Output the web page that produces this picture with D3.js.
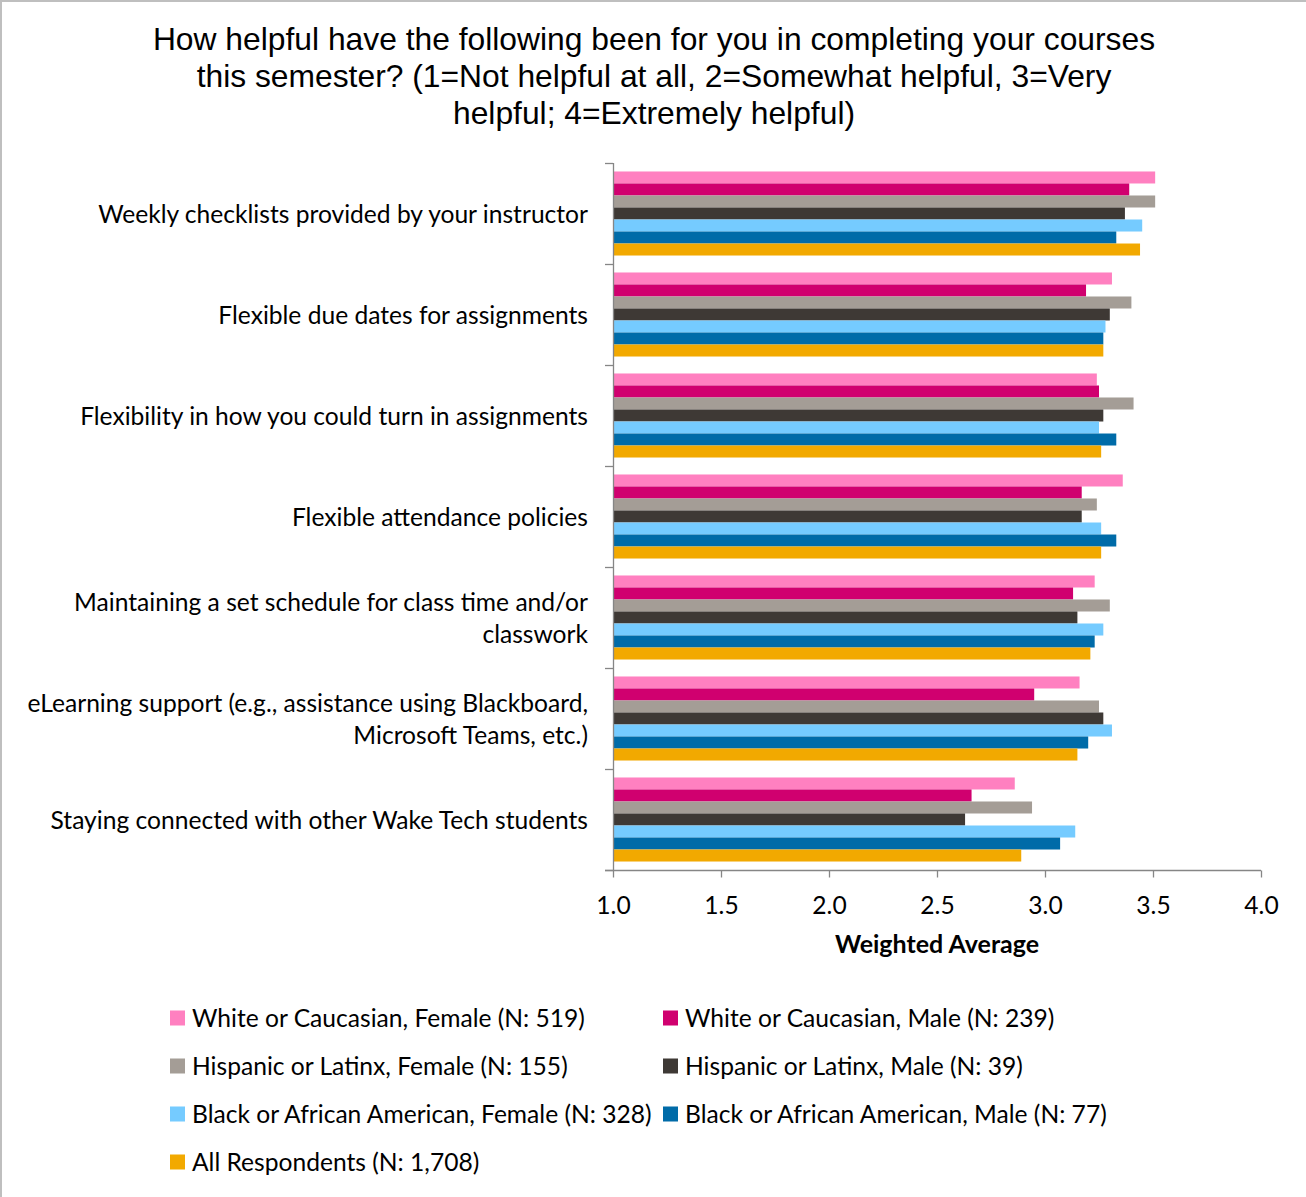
<!DOCTYPE html>
<html>
<head>
<meta charset="utf-8">
<script src="https://cdn.jsdelivr.net/npm/d3@7"></script>
<style>
  html, body { margin: 0; padding: 0; background: #fff; }
  svg { display: block; }
</style>
</head>
<body>
<svg id="chart" width="1306" height="1197"></svg>
<script>
// Survey items (top to bottom); "\n" splits a label over two lines
const categories = [
  "Weekly checklists provided by your instructor",
  "Flexible due dates for assignments",
  "Flexibility in how you could turn in assignments",
  "Flexible attendance policies",
  "Maintaining a set schedule for class time and/or\nclasswork",
  "eLearning support (e.g., assistance using Blackboard,\nMicrosoft Teams, etc.)",
  "Staying connected with other Wake Tech students"
];

const seriesNames = [
  "White or Caucasian, Female (N: 519)",
  "White or Caucasian, Male (N: 239)",
  "Hispanic or Latinx, Female (N: 155)",
  "Hispanic or Latinx, Male (N: 39)",
  "Black or African American, Female (N: 328)",
  "Black or African American, Male (N: 77)",
  "All Respondents (N: 1,708)"
];

const seriesColors = ["#FF80C0", "#D0006F", "#A49D96", "#3E3935", "#75CBFF", "#006BA8", "#F2A900"];

// Weighted averages per series, one value per survey item
const whiteFemale    = [3.51, 3.31, 3.24, 3.36, 3.23, 3.16, 2.86];
const whiteMale      = [3.39, 3.19, 3.25, 3.17, 3.13, 2.95, 2.66];
const hispanicFemale = [3.51, 3.40, 3.41, 3.24, 3.30, 3.25, 2.94];
const hispanicMale   = [3.37, 3.30, 3.27, 3.17, 3.15, 3.27, 2.63];
const blackFemale    = [3.45, 3.28, 3.25, 3.26, 3.27, 3.31, 3.14];
const blackMale      = [3.33, 3.27, 3.33, 3.33, 3.23, 3.20, 3.07];
const allRespondents = [3.44, 3.27, 3.26, 3.26, 3.21, 3.15, 2.89];

const seriesValues = [whiteFemale, whiteMale, hispanicFemale, hispanicMale, blackFemale, blackMale, allRespondents];

const xTicks = [1.0, 1.5, 2.0, 2.5, 3.0, 3.5, 4.0];

const titleLines = [
  "How helpful have the following been for you in completing your courses",
  "this semester? (1=Not helpful at all, 2=Somewhat helpful, 3=Very",
  "helpful; 4=Extremely helpful)"
];

const legendOrder = [[0, 1], [2, 3], [4, 5], [6]];

// ---- layout ----
const svg = d3.select("#chart");
const labelFont = "Lato, 'Open Sans', sans-serif";
const labelSize = 24.6;
const axisColor = "#868686";
const plot = { left: 613, right: 1261, top: 163, bottom: 870 };

// outer frame (left and top edges)
svg.append("rect").attr("x", 0).attr("y", 0).attr("width", 1306).attr("height", 1197).attr("fill", "#fff");
svg.append("line").attr("x1", 1).attr("x2", 1).attr("y1", 0).attr("y2", 1197).attr("stroke", "#BFBFBF").attr("stroke-width", 2);
svg.append("line").attr("x1", 0).attr("x2", 1306).attr("y1", 1).attr("y2", 1).attr("stroke", "#BFBFBF").attr("stroke-width", 2);

// title
svg.append("g").selectAll("text").data(titleLines).join("text")
  .attr("x", 654).attr("y", (d, i) => 50 + i * 37)
  .attr("text-anchor", "middle")
  .attr("font-family", "'Liberation Sans', Arial, sans-serif")
  .attr("font-size", 31.8).attr("fill", "#000")
  .text(d => d);

// scales
const x = d3.scaleLinear().domain([1, 4]).range([plot.left, plot.right]);
const y = d3.scaleBand().domain(d3.range(categories.length)).range([plot.top, plot.bottom]).paddingInner(0).paddingOuter(0);
const bandPad = y.bandwidth() * 0.084;
const ySeries = d3.scaleBand().domain(d3.range(seriesNames.length)).range([bandPad, y.bandwidth() - bandPad]).padding(0);

// bars
const rows = [];
categories.forEach((c, ci) => seriesValues.forEach((vals, si) => rows.push({ ci, si, v: vals[ci] })));
svg.append("g").selectAll("rect").data(rows).join("rect")
  .attr("x", x(1))
  .attr("y", d => y(d.ci) + ySeries(d.si))
  .attr("width", d => x(d.v) - x(1))
  .attr("height", ySeries.bandwidth())
  .attr("fill", d => seriesColors[d.si]);

// y axis: line with tick marks at category boundaries
const yAxis = svg.append("g");
yAxis.append("line").attr("x1", plot.left + 0.5).attr("x2", plot.left + 0.5)
  .attr("y1", plot.top).attr("y2", plot.bottom).attr("stroke", axisColor).attr("stroke-width", 1.3);
yAxis.selectAll("line.tick").data(d3.range(categories.length + 1)).join("line")
  .attr("class", "tick")
  .attr("x1", plot.left - 8).attr("x2", plot.left)
  .attr("y1", i => (i < categories.length ? y(i) : plot.bottom) + 0.5)
  .attr("y2", i => (i < categories.length ? y(i) : plot.bottom) + 0.5)
  .attr("stroke", axisColor).attr("stroke-width", 1.3);

// category labels
const catLabels = svg.append("g").selectAll("text").data(categories).join("text")
  .attr("text-anchor", "end")
  .attr("font-family", labelFont).attr("font-size", labelSize).attr("fill", "#000");
catLabels.each(function (d, i) {
  const lines = d.split("\n");
  const cy = y(i) + y.bandwidth() / 2;
  const lh = 32;
  d3.select(this).selectAll("tspan").data(lines).join("tspan")
    .attr("x", 588)
    .attr("y", (l, j) => cy + (j - (lines.length - 1) / 2) * lh + 9)
    .text(l => l);
});

// x axis
const xAxis = d3.axisBottom(x).tickValues(xTicks).tickFormat(d3.format(".1f")).tickSize(7).tickSizeOuter(0);
const gx = svg.append("g").attr("transform", `translate(0,${plot.bottom + 0.5})`).call(xAxis);
gx.select(".domain").attr("stroke", axisColor).attr("stroke-width", 1.3)
  .attr("d", `M${plot.left - 8},0H${plot.right}`);
gx.selectAll(".tick line").attr("stroke", axisColor).attr("stroke-width", 1.3);
gx.selectAll(".tick text")
  .attr("font-family", labelFont).attr("font-size", labelSize).attr("fill", "#000")
  .attr("dy", 0).attr("y", 43);

// x axis title
svg.append("text")
  .attr("x", (plot.left + plot.right) / 2).attr("y", 953)
  .attr("text-anchor", "middle")
  .attr("font-family", labelFont).attr("font-size", 25).attr("font-weight", "bold").attr("fill", "#000")
  .text("Weighted Average");

// legend
const legendCols = [170, 663];
const legendItems = [];
legendOrder.forEach((row, r) => row.forEach((si, c) => legendItems.push({ si, r, c })));
const lg = svg.append("g").selectAll("g").data(legendItems).join("g")
  .attr("transform", d => `translate(${legendCols[d.c]},${1018 + d.r * 48})`);
lg.append("rect").attr("x", 0).attr("y", -7.5).attr("width", 15).attr("height", 15)
  .attr("fill", d => seriesColors[d.si]);
lg.append("text").attr("x", 22).attr("y", 8.5)
  .attr("font-family", labelFont).attr("font-size", labelSize).attr("fill", "#000")
  .text(d => seriesNames[d.si]);
</script>
</body>
</html>
